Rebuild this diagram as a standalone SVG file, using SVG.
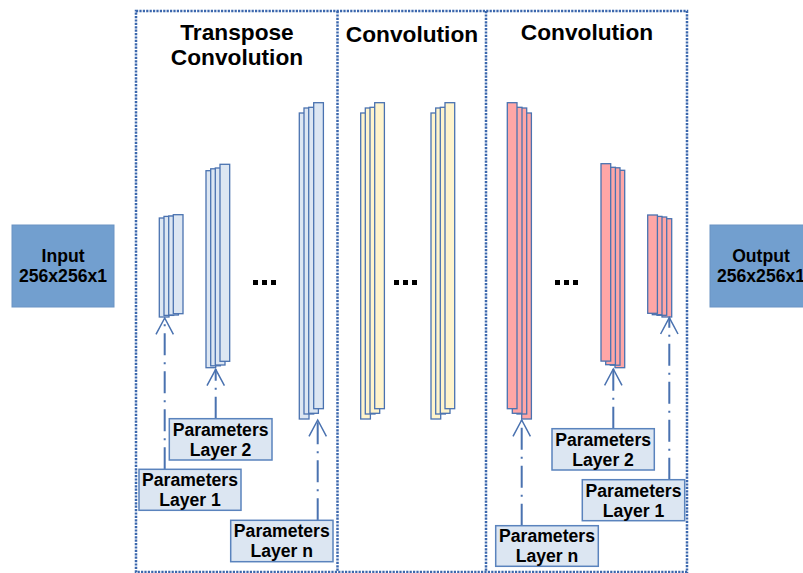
<svg xmlns="http://www.w3.org/2000/svg" width="803" height="573" viewBox="0 0 803 573">
<style>
  .frame{fill:none;stroke:#3b67ad;stroke-width:2.5;stroke-dasharray:2.2 1.2}
  .title{font-family:"Liberation Sans",Arial,sans-serif;font-weight:bold;font-size:22.7px;fill:#000;text-anchor:middle}
  .lbl{font-family:"Liberation Sans",Arial,sans-serif;font-weight:bold;font-size:17.6px;fill:#000;text-anchor:middle}
  .io{fill:#729fcf;stroke:#6a93c4;stroke-width:1}
  .param{fill:#dce6f2;stroke:#5a83bd;stroke-width:1.5}
  .tb{fill:#dce6f2;stroke:#4a72b0;stroke-width:1.3}
  .yl{fill:#fff4cc;stroke:#4a72b0;stroke-width:1.3}
  .pk{fill:#ffa6a6;stroke:#4a72b0;stroke-width:1.3}
  .conn{fill:none;stroke:#4a72b0;stroke-width:2}
  .dash{stroke-dasharray:22 7 2 7}
  .head{fill:none;stroke:#4a72b0;stroke-width:1.5}
  .dot{fill:#000}
</style>

<g id="frame">
  <rect class="frame" x="136" y="11" width="551" height="561"/>
  <line class="frame" x1="337.5" y1="11" x2="337.5" y2="572"/>
  <line class="frame" x1="486" y1="11" x2="486" y2="572"/>
</g>

<g id="titles">
  <text class="title" x="237" y="40">Transpose</text>
  <text class="title" x="237" y="65">Convolution</text>
  <text class="title" x="412" y="42">Convolution</text>
  <text class="title" x="587" y="39.5">Convolution</text>
</g>

<g id="input">
  <rect class="io" x="12" y="225" width="102" height="82"/>
  <text class="lbl" x="63" y="262">Input</text>
  <text class="lbl" x="63" y="282">256x256x1</text>
</g>

<g id="output">
  <rect class="io" x="710" y="225" width="102" height="82"/>
  <text class="lbl" x="761" y="262">Output</text>
  <text class="lbl" x="761" y="282">256x256x1</text>
</g>

<!-- Transpose convolution stacks -->
<g id="tconv1">
  <rect class="tb" x="159.3" y="218" width="9.7" height="99"/>
  <rect class="tb" x="164" y="216.4" width="9.7" height="99"/>
  <rect class="tb" x="168.7" y="216" width="9.7" height="99"/>
  <rect class="tb" x="173.3" y="214.7" width="9.7" height="99"/>
</g>
<g id="tconv2">
  <rect class="tb" x="206" y="170.7" width="9.7" height="197"/>
  <rect class="tb" x="210.7" y="168.8" width="9.7" height="197"/>
  <rect class="tb" x="215.3" y="168" width="9.7" height="197"/>
  <rect class="tb" x="220" y="164.3" width="9.7" height="197"/>
</g>
<g id="tconv3">
  <rect class="tb" x="299.3" y="113" width="9.7" height="306"/>
  <rect class="tb" x="304" y="108" width="9.7" height="306"/>
  <rect class="tb" x="308.7" y="107.3" width="9.7" height="306"/>
  <rect class="tb" x="313.7" y="102.7" width="9.7" height="306"/>
</g>

<!-- Convolution (yellow) stacks -->
<g id="conv1">
  <rect class="yl" x="360.7" y="113" width="9.7" height="306"/>
  <rect class="yl" x="365.3" y="108" width="9.7" height="306"/>
  <rect class="yl" x="370" y="107.3" width="9.7" height="306"/>
  <rect class="yl" x="374.7" y="102.7" width="9.7" height="306"/>
</g>
<g id="conv2">
  <rect class="yl" x="431" y="113" width="9.7" height="306"/>
  <rect class="yl" x="435.7" y="108" width="9.7" height="306"/>
  <rect class="yl" x="440.3" y="107.3" width="9.7" height="306"/>
  <rect class="yl" x="445" y="102.7" width="9.7" height="306"/>
</g>

<!-- Convolution (pink) stacks -->
<g id="pconv1">
  <rect class="pk" x="521.7" y="113" width="9.7" height="306"/>
  <rect class="pk" x="517" y="108" width="9.7" height="306"/>
  <rect class="pk" x="512.3" y="107.3" width="9.7" height="306"/>
  <rect class="pk" x="507.3" y="102.7" width="9.7" height="306"/>
</g>
<g id="pconv2">
  <rect class="pk" x="615" y="170.3" width="9.7" height="197.4"/>
  <rect class="pk" x="610.3" y="167.8" width="9.7" height="197.4"/>
  <rect class="pk" x="605.7" y="167.3" width="9.7" height="197.4"/>
  <rect class="pk" x="601" y="163.7" width="9.7" height="197.4"/>
</g>
<g id="pconv3">
  <rect class="pk" x="662" y="218.7" width="9.7" height="98.3"/>
  <rect class="pk" x="657" y="217" width="9.7" height="98.3"/>
  <rect class="pk" x="652.3" y="216.4" width="9.7" height="98.3"/>
  <rect class="pk" x="647.7" y="215" width="9.7" height="98.3"/>
</g>

<g id="ellipses">
  <rect class="dot" x="253" y="280" width="5" height="5"/>
  <rect class="dot" x="262" y="280" width="5" height="5"/>
  <rect class="dot" x="271" y="280" width="5" height="5"/>
  <rect class="dot" x="394" y="280" width="5" height="5"/>
  <rect class="dot" x="403" y="280" width="5" height="5"/>
  <rect class="dot" x="412" y="280" width="5" height="5"/>
  <rect class="dot" x="555" y="280" width="5" height="5"/>
  <rect class="dot" x="564" y="280" width="5" height="5"/>
  <rect class="dot" x="573" y="280" width="5" height="5"/>
</g>

<g id="connectors">
  <!-- transpose side -->
  <line class="conn dash" x1="164.7" y1="469.3" x2="164.7" y2="318"/>
  <path class="head" d="M156 334.3 L164.7 318 L173.4 334.3"/>
  <line class="conn dash" x1="215.7" y1="418.7" x2="215.7" y2="369.3"/>
  <path class="head" d="M207 385.6 L215.7 369.3 L224.4 385.6"/>
  <line class="conn dash" x1="317.7" y1="520.3" x2="317.7" y2="420"/>
  <path class="head" d="M309 436.3 L317.7 420 L326.4 436.3"/>
  <!-- pink side -->
  <line class="conn dash" x1="521.7" y1="525.7" x2="521.7" y2="420"/>
  <path class="head" d="M513 436.3 L521.7 420 L530.4 436.3"/>
  <line class="conn dash" x1="613.3" y1="428.7" x2="613.3" y2="369"/>
  <path class="head" d="M604.6 385.3 L613.3 369 L622 385.3"/>
  <line class="conn dash" x1="669.3" y1="479.7" x2="669.3" y2="317.7"/>
  <path class="head" d="M660.6 334 L669.3 317.7 L678 334"/>
</g>

<g id="tparam2">
  <rect class="param" x="169.3" y="418.7" width="102.7" height="41.3"/>
  <text class="lbl" x="220.6" y="435.5">Parameters</text>
  <text class="lbl" x="220.6" y="455.5">Layer 2</text>
</g>
<g id="tparam1">
  <rect class="param" x="139" y="469.3" width="102" height="41"/>
  <text class="lbl" x="190" y="486">Parameters</text>
  <text class="lbl" x="190" y="506">Layer 1</text>
</g>
<g id="tparamn">
  <rect class="param" x="230.7" y="520.3" width="102.3" height="41.4"/>
  <text class="lbl" x="281.8" y="537">Parameters</text>
  <text class="lbl" x="281.8" y="557">Layer n</text>
</g>
<g id="pparam2">
  <rect class="param" x="552" y="428.7" width="102.3" height="41.3"/>
  <text class="lbl" x="603.1" y="445.5">Parameters</text>
  <text class="lbl" x="603.1" y="465.5">Layer 2</text>
</g>
<g id="pparam1">
  <rect class="param" x="582.3" y="479.7" width="102.4" height="41"/>
  <text class="lbl" x="633.5" y="496.5">Parameters</text>
  <text class="lbl" x="633.5" y="516.5">Layer 1</text>
</g>
<g id="pparamn">
  <rect class="param" x="495.7" y="525.7" width="102.6" height="40.6"/>
  <text class="lbl" x="547" y="542">Parameters</text>
  <text class="lbl" x="547" y="562">Layer n</text>
</g>
</svg>
